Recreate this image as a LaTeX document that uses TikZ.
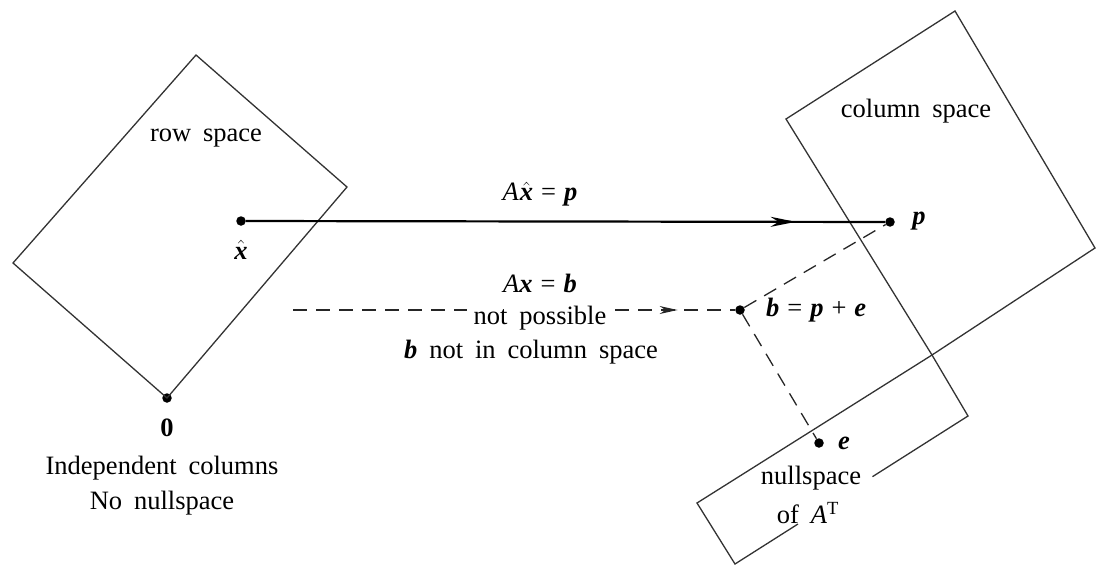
\documentclass[tikz,border=0pt]{standalone}
\usepackage{fontspec}
\setmainfont{Liberation Serif}
\usetikzlibrary{arrows.meta,decorations.markings,calc}
\newcommand{\vb}[1]{\textbf{\textit{#1}}}
\newcommand{\ws}{\hspace{0.45em}}
\newcommand{\es}{\hspace{0.3em}}
\newcommand{\xhatsym}{$\hat{\mbox{\vb{x}}}$}
\begin{document}
\begin{tikzpicture}[x=1pt,y=-1pt,
  font=\fontsize{26.5}{30}\selectfont,
  region/.style={draw=black!80, line width=1.3pt, line join=miter},
  dot/.style={circle, fill=black, inner sep=0pt, minimum size=9.5pt},
  lbl/.style={inner sep=1pt},
  dashline/.style={draw=black!85, line width=1.3pt, dash pattern=on 14pt off 9pt},
  mainline/.style={draw=black, line width=2.2pt}]
\useasboundingbox (0,0) rectangle (1096,565);
% row space
\coordinate (rT) at (196,55);
\coordinate (rR) at (347,187);
\coordinate (rL) at (13,263);
\node[dot] (zero) at (167,398) {};
\draw[region] (rT) -- (rR) -- (zero.center) -- (rL) -- cycle;
% column space
\coordinate (cT) at (955,11);
\coordinate (cR) at (1095,248);
\coordinate (cC) at (932,355);
\coordinate (cL) at (786,119);
\draw[region] (cT) -- (cR) -- (cC) -- (cL) -- cycle;
% left nullspace
\coordinate (nL) at (697,503);
\coordinate (nR) at (968,416);
\coordinate (nB) at (735,564);
\draw[region] (cC) -- (nR) -- ($(nR)!0.41!(nB)$);
\draw[region] ($(nR)!0.73!(nB)$) -- (nB) -- (nL) -- (cC);
% points
\node[dot] (xh) at (241,221) {};
\node[dot] (p) at (890,222) {};
\node[dot] (b) at (740,310) {};
\node[dot] (e) at (819,443) {};
\coordinate (s) at (293,310);
% connectors
\draw[mainline, postaction={decorate, decoration={markings,
   mark=at position 0.86 with {\arrow{Stealth[length=25pt,width=10pt]}}}}] (xh) -- (p);
\draw[dashline, postaction={decorate, decoration={markings,
   mark=at position 0.87 with {\arrow{Stealth[length=18pt,width=8pt]}}}}] (s) -- (b);
\draw[dashline] (b) -- (p);
\draw[dashline] (b) -- (e);
% labels
\node[lbl] (lrow) at (206,138) {row\ws space};
\node[lbl] (lcol) at (916,111) {column\ws space};
\node[lbl] (lxh) at (241,250) {\xhatsym};
\node[lbl] (l0) at (167,428) {\textbf{0}};
\node[lbl] (lind) at (162,468) {Independent\ws columns};
\node[lbl] (lno) at (162,503) {No\ws nullspace};
\node[lbl] (lp) at (919,221) {\vb{p}};
\node[lbl, anchor=west] (lb) at (765,310) {\vb{b}\es=\es\vb{p}\es+\es\vb{e}};
\node[lbl, anchor=west] (le) at (837,443) {\vb{e}};
\node[lbl] (leq1) at (540,194) {\textit{A}\kern1pt\xhatsym\es=\es\vb{p}};
\node[lbl] (leq2) at (540,283) {\textit{A}\vb{x}\es=\es\vb{b}};
\node[lbl, fill=white, inner xsep=7pt] (lnp) at (540,318) {not\ws possible};
\node[lbl] (lnot) at (531,352) {\vb{b}\ws not\ws in\ws column\ws space};
\node[lbl] (lnull) at (811,478) {nullspace};
\node[lbl] (lof) at (808,513) {of\ws\textit{A}\textsuperscript{T}};
\end{tikzpicture}
\end{document}
